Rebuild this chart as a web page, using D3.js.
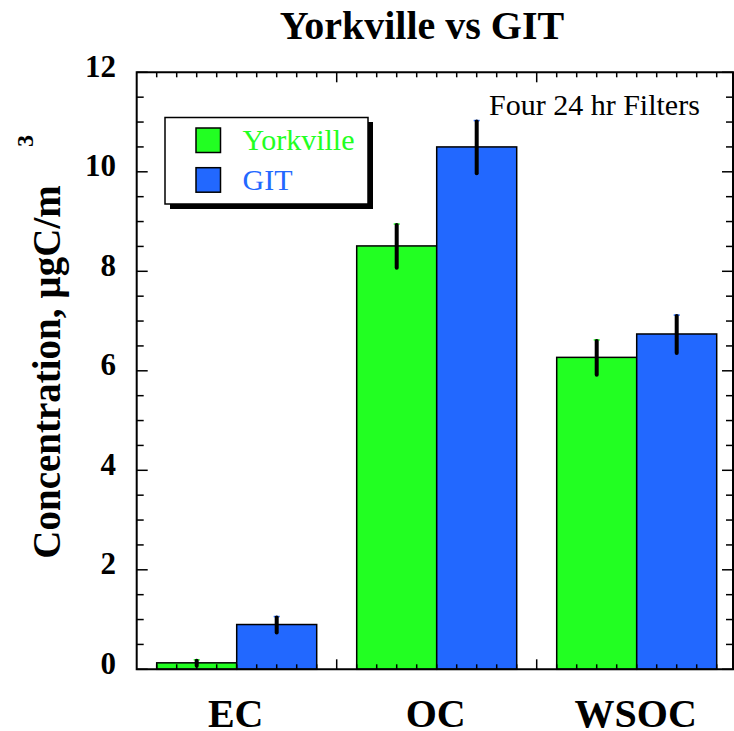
<!DOCTYPE html>
<html>
<head>
<meta charset="utf-8">
<script src="https://cdn.jsdelivr.net/npm/d3@7"></script>
<style>
  body { margin: 0; background: #fff; }
  svg { display: block; font-family: "Liberation Serif", "DejaVu Serif", serif; }
</style>
</head>
<body>
<div id="chart"></div>
<script>
// DATA
var categories = ["EC", "OC", "WSOC"];
var seriesNames = ["Yorkville", "GIT"];
var seriesColors = ["#22ff22", "#2268ff"];
var yorkvilleValues = [0.13, 8.51, 6.27];
var yorkvilleErrors = [0.06, 0.44, 0.35];
var gitValues = [0.90, 10.50, 6.74];
var gitErrors = [0.16, 0.53, 0.38];
var yTicks = [0, 2, 4, 6, 8, 10, 12];

var width = 734, height = 731;
var plotLeft = 136.7, plotRight = 733, plotTop = 72.3, plotBottom = 669.3;

var svg = d3.select("#chart").append("svg")
  .attr("width", width).attr("height", height);

// SCALES: x in bar units (each bar 4 units wide, groups 10 units apart)
var x = d3.scaleLinear().domain([0, 30]).range([plotLeft, plotLeft + 600]);
var y = d3.scaleLinear().domain([0, 12]).range([plotBottom, plotTop]);
var groupCenter = function(i){ return 5 + i * 10; };

// BARS
var series = [
  { name: seriesNames[0], color: seriesColors[0], values: yorkvilleValues, errors: yorkvilleErrors, offset: -4 },
  { name: seriesNames[1], color: seriesColors[1], values: gitValues, errors: gitErrors, offset: 0 }
];

series.forEach(function(s){
  var g = svg.append("g").attr("class", "bars");
  g.selectAll("rect").data(s.values)
    .enter().append("rect")
    .attr("x", function(d, i){ return x(groupCenter(i) + s.offset); })
    .attr("width", x(4) - x(0))
    .attr("y", function(d){ return y(d); })
    .attr("height", function(d){ return y(0) - y(d); })
    .attr("fill", s.color)
    .attr("stroke", "#000")
    .attr("stroke-width", 1.5);
});

// AXES (drawn over the bars, ticks inward on all sides)
var axisG = svg.append("g").attr("class", "axes");
var xMinor = d3.range(1, 30);
var yMinor = d3.range(0, 12.01, 0.5);

axisG.selectAll(".xtick-b").data(xMinor).enter().append("line")
  .attr("x1", function(d){ return x(d); }).attr("x2", function(d){ return x(d); })
  .attr("y1", plotBottom).attr("y2", function(d){ return d % 10 === 0 ? plotBottom - 10 : plotBottom - 5; })
  .attr("stroke", "#000").attr("stroke-width", 1.5);
axisG.selectAll(".xtick-t").data(xMinor).enter().append("line")
  .attr("x1", function(d){ return x(d); }).attr("x2", function(d){ return x(d); })
  .attr("y1", plotTop).attr("y2", function(d){ return d % 10 === 0 ? plotTop + 10 : plotTop + 5; })
  .attr("stroke", "#000").attr("stroke-width", 1.5);
axisG.selectAll(".ytick-l").data(yMinor).enter().append("line")
  .attr("y1", function(d){ return y(d); }).attr("y2", function(d){ return y(d); })
  .attr("x1", plotLeft).attr("x2", function(d){ return d % 2 === 0 ? plotLeft + 11 : plotLeft + 7; })
  .attr("stroke", "#000").attr("stroke-width", 1.5);
axisG.selectAll(".ytick-r").data(yMinor).enter().append("line")
  .attr("y1", function(d){ return y(d); }).attr("y2", function(d){ return y(d); })
  .attr("x1", plotRight).attr("x2", function(d){ return d % 2 === 0 ? plotRight - 11 : plotRight - 7; })
  .attr("stroke", "#000").attr("stroke-width", 1.5);

axisG.append("path")
  .attr("d", "M" + plotLeft + "," + plotTop + "H" + plotRight + "V" + plotBottom + "H" + plotLeft + "Z")
  .attr("fill", "none").attr("stroke", "#000").attr("stroke-width", 2);

// ERROR BARS
series.forEach(function(s){
  var g = svg.append("g").attr("class", "errors");
  g.selectAll(".cap").data(s.values).enter().append("line")
    .attr("x1", function(d, i){ return x(groupCenter(i) + s.offset + 2) - 3; })
    .attr("x2", function(d, i){ return x(groupCenter(i) + s.offset + 2) + 3; })
    .attr("y1", function(d, i){ return y(d + s.errors[i]); })
    .attr("y2", function(d, i){ return y(d + s.errors[i]); })
    .attr("stroke", s.color).attr("stroke-width", 1.5);
  g.selectAll(".err").data(s.values).enter().append("line")
    .attr("x1", function(d, i){ return x(groupCenter(i) + s.offset + 2); })
    .attr("x2", function(d, i){ return x(groupCenter(i) + s.offset + 2); })
    .attr("y1", function(d, i){ return y(d + s.errors[i]) + 1; })
    .attr("y2", function(d, i){ return y(d - s.errors[i]); })
    .attr("stroke", "#000").attr("stroke-width", 4).attr("stroke-linecap", "round");
});

// TICK LABELS
svg.append("g").selectAll("text").data(yTicks).enter().append("text")
  .attr("x", 116).attr("y", function(d){ return y(d) + 4.5; })
  .attr("text-anchor", "end")
  .attr("font-size", 31).attr("font-weight", "bold")
  .text(function(d){ return d; });

svg.append("g").selectAll("text").data(categories).enter().append("text")
  .attr("x", function(d, i){ return x(groupCenter(i)) - 1; })
  .attr("y", 727)
  .attr("text-anchor", "middle")
  .attr("font-size", 40).attr("font-weight", "bold")
  .text(function(d){ return d; });

// TITLES
svg.append("text")
  .attr("x", 422).attr("y", 39)
  .attr("text-anchor", "middle")
  .attr("font-size", 40).attr("font-weight", "bold")
  .text("Yorkville vs GIT");

svg.append("text")
  .attr("transform", "translate(60,372) rotate(-90)")
  .attr("text-anchor", "middle")
  .attr("font-size", 39).attr("font-weight", "bold")
  .text("Concentration, \u00b5gC/m");
svg.append("text")
  .attr("transform", "translate(33,141) rotate(-90)")
  .attr("text-anchor", "middle")
  .attr("font-size", 24).attr("font-weight", "bold")
  .text("3");

svg.append("text")
  .attr("x", 489).attr("y", 115)
  .attr("font-size", 30)
  .text("Four 24 hr Filters");

// LEGEND
var legend = svg.append("g").attr("class", "legend");
legend.append("rect")
  .attr("x", 170).attr("y", 122).attr("width", 203).attr("height", 87)
  .attr("fill", "#000");
legend.append("rect")
  .attr("x", 165).attr("y", 117.5).attr("width", 203).attr("height", 86.5)
  .attr("fill", "#fff").attr("stroke", "#000").attr("stroke-width", 1.5);
var legendItems = legend.selectAll(".item").data(series).enter().append("g")
  .attr("transform", function(d, i){ return "translate(0," + (i * 39.7) + ")"; });
legendItems.append("rect")
  .attr("x", 196).attr("y", 128).attr("width", 24.5).attr("height", 24.5)
  .attr("fill", function(d){ return d.color; })
  .attr("stroke", "#000").attr("stroke-width", 1.5);
legendItems.append("text")
  .attr("x", 242.5).attr("y", 150)
  .attr("font-size", 30)
  .attr("fill", function(d){ return d.color; })
  .text(function(d){ return d.name; });
</script>
</body>
</html>
